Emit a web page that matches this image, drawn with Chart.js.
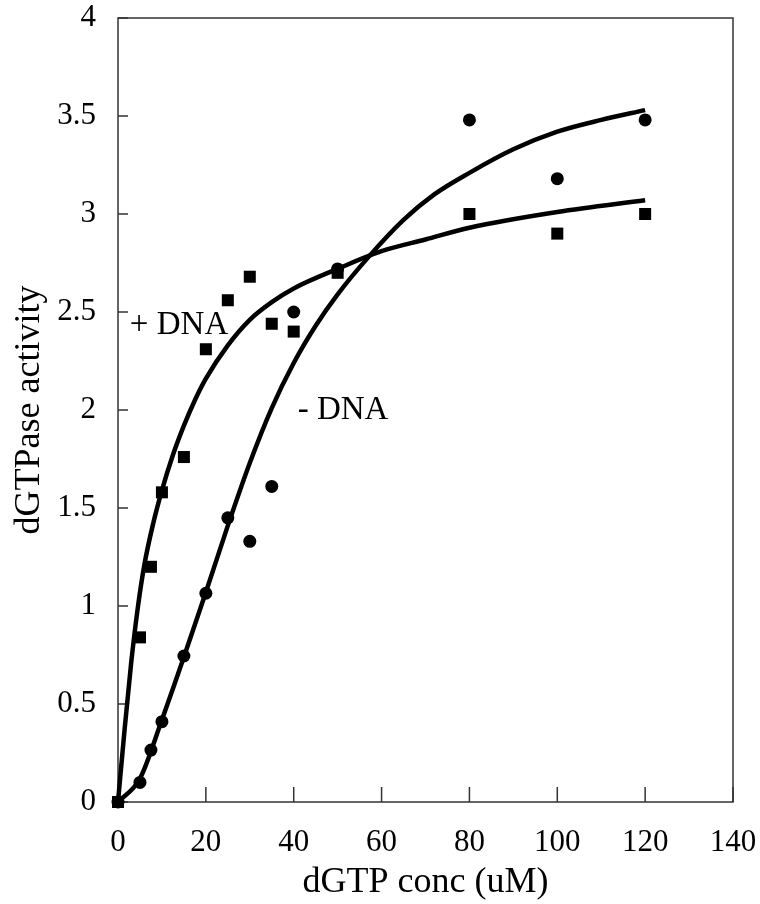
<!DOCTYPE html>
<html>
<head>
<meta charset="utf-8">
<title>dGTPase activity</title>
<script src="https://cdn.jsdelivr.net/npm/chart.js@4.4.0/dist/chart.umd.min.js"></script>
<style>
  html, body { margin: 0; padding: 0; background: #fff; }
</style>
</head>
<body>
<canvas id="Chart1" width="760" height="904"></canvas>
<script>
// measured points, + DNA (squares) and - DNA (circles)
var concPlus = [0, 5, 7.5, 10, 15, 20, 25, 30, 35, 40, 50, 80, 100, 120];
var actPlus = [0, 0.84, 1.20, 1.58, 1.76, 2.31, 2.56, 2.68, 2.44, 2.40, 2.70, 3.00, 2.90, 3.00];
var concMinus = [0, 5, 7.5, 10, 15, 20, 25, 30, 35, 40, 50, 80, 100, 120];
var actMinus = [0, 0.10, 0.265, 0.41, 0.745, 1.065, 1.45, 1.33, 1.61, 2.50, 2.72, 3.48, 3.18, 3.48];

// fitted curves
var fitPlusX = [0, 1.5, 3, 4.5, 6, 8, 10, 12.5, 15, 17.5, 20, 25, 30, 35, 40, 50, 60, 70, 80, 100, 120];
var fitPlusY = [0, 0.37, 0.71, 0.99, 1.21, 1.42, 1.59, 1.77, 1.92, 2.05, 2.16, 2.33, 2.46, 2.55, 2.62, 2.72, 2.81, 2.87, 2.93, 3.01, 3.07];
var fitMinusX = [0, 5, 10, 15, 20, 25, 30, 35, 40, 45, 50, 57, 65, 72, 80, 90, 100, 110, 120];
var fitMinusY = [0, 0.12, 0.42, 0.74, 1.07, 1.41, 1.73, 2.01, 2.24, 2.43, 2.59, 2.78, 2.97, 3.10, 3.21, 3.33, 3.42, 3.48, 3.53];

var xTicks = [0, 20, 40, 60, 80, 100, 120, 140];
var yTicks = [0, 0.5, 1, 1.5, 2, 2.5, 3, 3.5, 4];

var noteText = ['+ DNA', '- DNA'];
var noteX = [2.7, 40.9];
var noteY = [2.43, 2.0];

function pts(xs, ys) {
  return xs.map(function (x, i) { return {x: x, y: ys[i]}; });
}

var serif = '"Liberation Serif", "Times New Roman", serif';

// fixed axis boxes, and no extra room for overhanging tick labels
function fixBox(size) {
  return function (s) {
    if (s.isHorizontal()) s.height = size; else s.width = size;
    s.paddingTop = 0; s.paddingBottom = 0; s.paddingLeft = 0; s.paddingRight = 0;
  };
}

// box round the plot, inward ticks, curve labels
var frame = {
  id: 'frame',
  beforeDatasetsDraw: function (chart) {
    var ctx = chart.ctx, a = chart.chartArea;
    var xs = chart.scales.x, ys = chart.scales.y;
    ctx.save();
    ctx.strokeStyle = '#333';
    ctx.lineWidth = 1.5;
    ctx.strokeRect(a.left, a.top, a.right - a.left, a.bottom - a.top);
    ctx.beginPath();
    xTicks.forEach(function (v) {
      var px = xs.getPixelForValue(v);
      ctx.moveTo(px, a.bottom);
      ctx.lineTo(px, a.bottom - 15);
    });
    yTicks.forEach(function (v) {
      var py = ys.getPixelForValue(v);
      ctx.moveTo(a.left, py);
      ctx.lineTo(a.left + 10, py);
    });
    ctx.stroke();
    ctx.restore();
  },
  afterDatasetsDraw: function (chart) {
    var ctx = chart.ctx;
    var xs = chart.scales.x, ys = chart.scales.y;
    ctx.save();
    ctx.fillStyle = '#000';
    ctx.font = '33px ' + serif;
    ctx.textAlign = 'left';
    ctx.textBaseline = 'middle';
    noteText.forEach(function (t, i) {
      ctx.fillText(t, xs.getPixelForValue(noteX[i]), ys.getPixelForValue(noteY[i]));
    });
    ctx.restore();
  }
};

var ctx1 = document.getElementById('Chart1').getContext('2d');
var chart1 = new Chart(ctx1, {
  type: 'scatter',
  data: {
    datasets: [{
      data: pts(concPlus, actPlus),
      pointStyle: 'rect',
      pointRadius: 8.5,
      backgroundColor: '#000',
      borderWidth: 0,
      clip: false
    }, {
      data: pts(concMinus, actMinus),
      pointStyle: 'circle',
      pointRadius: 6.5,
      backgroundColor: '#000',
      borderWidth: 0,
      clip: false
    }, {
      data: pts(fitPlusX, fitPlusY),
      showLine: true,
      pointRadius: 0,
      borderColor: '#000',
      borderWidth: 4.5,
      cubicInterpolationMode: 'monotone',
      clip: false
    }, {
      data: pts(fitMinusX, fitMinusY),
      showLine: true,
      pointRadius: 0,
      borderColor: '#000',
      borderWidth: 4.5,
      cubicInterpolationMode: 'monotone',
      clip: false
    }]
  },
  options: {
    responsive: false,
    animation: false,
    devicePixelRatio: 1,
    layout: { autoPadding: false, padding: { top: 18, right: 27, left: 0, bottom: 0 } },
    plugins: { legend: { display: false }, tooltip: { enabled: false } },
    scales: {
      x: {
        type: 'linear',
        min: 0,
        max: 140,
        afterFit: fixBox(102),
        afterBuildTicks: function (s) { s.ticks = xTicks.map(function (v) { return {value: v}; }); },
        grid: { display: false },
        border: { display: false },
        ticks: { color: '#000', padding: 14, maxRotation: 0, font: { family: serif, size: 31 },
                 callback: function (v) { return String(v); } },
        title: { display: true, text: 'dGTP conc (uM)', color: '#000', padding: { top: 0, bottom: 0 },
                 font: { family: serif, size: 36, lineHeight: 1.2 } }
      },
      y: {
        type: 'linear',
        min: 0,
        max: 4,
        afterFit: fixBox(118),
        afterBuildTicks: function (s) { s.ticks = yTicks.map(function (v) { return {value: v}; }); },
        grid: { display: false },
        border: { display: false },
        ticks: { color: '#000', padding: 14, font: { family: serif, size: 31 },
                 callback: function (v) { return String(v); } },
        title: { display: true, text: 'dGTPase activity', color: '#000', padding: { top: 8, bottom: 0 },
                 font: { family: serif, size: 36, lineHeight: 1.2 } }
      }
    }
  },
  plugins: [frame]
});
</script>
</body>
</html>
